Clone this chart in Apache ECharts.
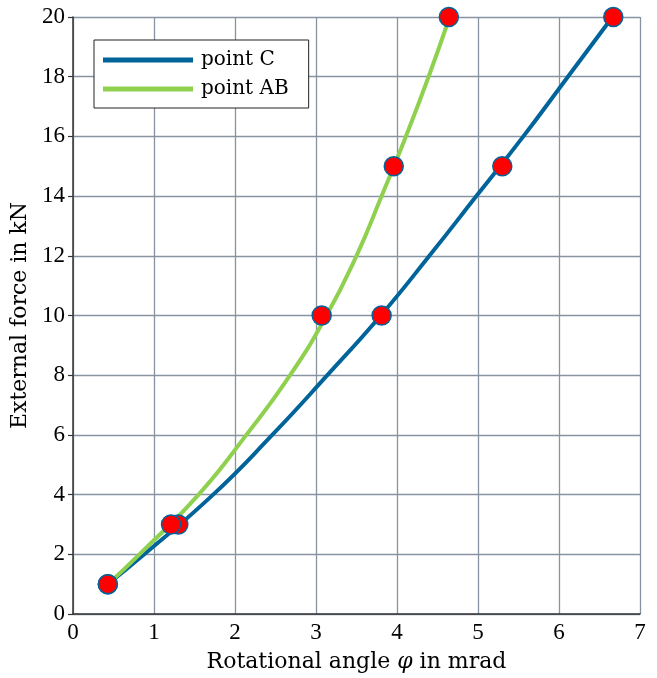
<!DOCTYPE html>
<html>
<head>
<meta charset="utf-8">
<script src="https://cdn.jsdelivr.net/npm/echarts@6/dist/echarts.min.js"></script>
<style>
    html, body { margin: 0; padding: 0; background: #fff; }
    #chart { width: 657px; height: 678px; }
</style>
</head>
<body>
<div id="chart"></div>
<script>
    var forceLevels = [1, 2, 4, 6, 8, 10, 12, 14, 16, 18, 20];
    // rotational angle (mrad) of the fitted curves at those forces
    var curveC  = [0.43, 0.88, 1.73, 2.46, 3.14, 3.80, 4.40, 4.98, 5.56, 6.11, 6.66];
    var curveAB = [0.43, 0.82, 1.55, 2.14, 2.68, 3.13, 3.50, 3.81, 4.11, 4.39, 4.65];

    // measured points
    var pointForces = [1, 3, 10, 15, 20];
    var pointsC  = [0.43, 1.30, 3.81, 5.30, 6.67];
    var pointsAB = [0.43, 1.21, 3.07, 3.96, 4.64];

    var blue = '#00649b';
    var green = '#8fd14f';
    var gridCol = '#8893a2';
    var serif = 'Liberation Serif';
    var wide = 'DejaVu Serif';

    function pairs(xs, ys) {
        return xs.map(function (x, i) { return [x, ys[i]]; });
    }

    var chart = echarts.init(document.getElementById('chart'));
    chart.setOption({
        animation: false,
        grid: { left: 73, right: 17, top: 17, bottom: 64 },
        legend: {
            data: ['point C', 'point AB'],
            orient: 'vertical',
            left: 94, top: 40,
            padding: [10, 20, 9, 9],
            itemGap: 9,
            itemWidth: 90, itemHeight: 5,
            icon: 'rect',
            borderColor: '#222', borderWidth: 1,
            backgroundColor: '#fff',
            textStyle: { fontFamily: wide, fontSize: 20, color: '#000', padding: [0, 0, 0, 3] }
        },
        xAxis: {
            type: 'value', min: 0, max: 7, interval: 1,
            name: '{n|Rotational angle }{i|φ}{n| in mrad}',
            nameLocation: 'middle', nameGap: 37,
            nameTextStyle: {
                rich: {
                    n: { fontFamily: wide, fontSize: 22, color: '#000' },
                    i: { fontFamily: wide, fontSize: 22, fontStyle: 'italic', color: '#000' }
                }
            },
            axisLine: { onZero: false, lineStyle: { color: '#333', width: 1.5 } },
            axisTick: { show: false },
            axisLabel: { fontFamily: serif, fontSize: 23, color: '#000', margin: 7 },
            splitLine: { show: true, lineStyle: { color: gridCol, width: 1.3 } }
        },
        yAxis: {
            type: 'value', min: 0, max: 20, interval: 2,
            name: 'External force in kN',
            nameLocation: 'middle', nameGap: 33,
            nameTextStyle: { fontFamily: wide, fontSize: 22, color: '#000' },
            axisLine: { show: true, onZero: false, lineStyle: { color: '#333', width: 1.5 } },
            axisTick: { show: true, length: 5, lineStyle: { color: '#333', width: 1.2 } },
            axisLabel: { fontFamily: serif, fontSize: 23, color: '#000', margin: 8 },
            splitLine: { show: true, lineStyle: { color: gridCol, width: 1.3 } }
        },
        series: [
            {
                name: 'point C', type: 'line', smooth: 0.5,
                showSymbol: false, symbol: 'none',
                color: blue,
                lineStyle: { color: blue, width: 4 },
                data: pairs(curveC, forceLevels), z: 2
            },
            {
                name: 'point AB', type: 'line', smooth: 0.5,
                showSymbol: false, symbol: 'none',
                color: green,
                lineStyle: { color: green, width: 4 },
                data: pairs(curveAB, forceLevels), z: 2
            },
            {
                name: 'C data', type: 'scatter', symbolSize: 19,
                itemStyle: { color: '#ff0000', opacity: 1, borderColor: blue, borderWidth: 1.5 },
                data: pairs(pointsC, pointForces), z: 5
            },
            {
                name: 'AB data', type: 'scatter', symbolSize: 19,
                itemStyle: { color: '#ff0000', opacity: 1, borderColor: blue, borderWidth: 1.5 },
                data: pairs(pointsAB, pointForces), z: 5
            }
        ]
    });
</script>
</body>
</html>
